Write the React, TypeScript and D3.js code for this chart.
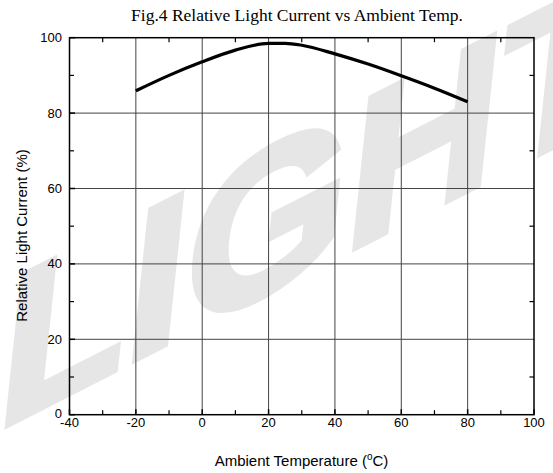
import React from "react";
import * as d3 from "d3";

const temps = [-20, -10, 0, 10, 20, 25, 30, 40, 50, 60, 70, 80];
const relCurrent = [85.9, 90.0, 93.6, 96.7, 98.5, 98.5, 98.0, 95.7, 93.0, 89.9, 86.6, 83.0];
const xMajorTicks = [-40, -20, 0, 20, 40, 60, 80, 100];
const xMinorTicks = [-30, -10, 10, 30, 50, 70, 90];
const yMajorTicks = [0, 20, 40, 60, 80, 100];
const yMinorTicks = [10, 30, 50, 70, 90];

const W = 553;
const H = 473;
const M = { left: 69.5, right: 534, top: 37.7, bottom: 414.7 };

export default function App() {
  const x = d3.scaleLinear().domain([-40, 100]).range([M.left, M.right]);
  const y = d3.scaleLinear().domain([0, 100]).range([M.bottom, M.top]);
  const pts = temps.map((t, i) => [t, relCurrent[i]] as [number, number]);
  const line = d3
    .line<[number, number]>()
    .x((d) => x(d[0]))
    .y((d) => y(d[1]))
    .curve(d3.curveMonotoneX);
  const sans = "'Liberation Sans', Arial, sans-serif";
  const serif = "'Liberation Serif', 'Times New Roman', serif";
  const tl = 4.5;
  return (
    <svg
      width={W}
      height={H}
      style={{ position: "absolute", left: 0, top: 0, background: "#fff" }}
    >
      <text
        x={0}
        y={0}
        fontFamily={sans}
        fontWeight="bold"
        fontSize={200}
        fill="#e6e6e6"
        stroke="#e6e6e6"
        strokeWidth={6}
        strokeLinejoin="miter"
        transform="translate(-6,432) rotate(-27) skewX(-33) scale(1.17,0.92)"
      >
        LIGHT
      </text>
      <text
        x={297}
        y={21}
        textAnchor="middle"
        fontFamily={serif}
        fontSize={17.5}
        fill="#000"
      >
        Fig.4 Relative Light Current vs Ambient Temp.
      </text>
      {xMajorTicks.slice(1, -1).map((t) => (
        <line key={"gx" + t} x1={x(t)} x2={x(t)} y1={M.top} y2={M.bottom} stroke="#444" strokeWidth={1} />
      ))}
      {yMajorTicks.slice(1, -1).map((t) => (
        <line key={"gy" + t} y1={y(t)} y2={y(t)} x1={M.left} x2={M.right} stroke="#444" strokeWidth={1} />
      ))}
      {xMinorTicks.map((t) => (
        <g key={"mx" + t}>
          <line x1={x(t)} x2={x(t)} y1={M.bottom} y2={M.bottom - tl} stroke="#000" strokeWidth={1.2} />
          <line x1={x(t)} x2={x(t)} y1={M.top} y2={M.top + tl} stroke="#000" strokeWidth={1.2} />
        </g>
      ))}
      {xMajorTicks.map((t) => (
        <g key={"Mx" + t}>
          <line x1={x(t)} x2={x(t)} y1={M.bottom} y2={M.bottom - tl - 1} stroke="#000" strokeWidth={1.5} />
        </g>
      ))}
      {yMinorTicks.map((t) => (
        <g key={"my" + t}>
          <line y1={y(t)} y2={y(t)} x1={M.left} x2={M.left + tl} stroke="#000" strokeWidth={1.2} />
          <line y1={y(t)} y2={y(t)} x1={M.right} x2={M.right - tl} stroke="#000" strokeWidth={1.2} />
        </g>
      ))}
      {yMajorTicks.map((t) => (
        <line key={"My" + t} y1={y(t)} y2={y(t)} x1={M.left} x2={M.left + tl + 1} stroke="#000" strokeWidth={1.5} />
      ))}
      <rect
        x={M.left}
        y={M.top}
        width={M.right - M.left}
        height={M.bottom - M.top}
        fill="none"
        stroke="#000"
        strokeWidth={1.5}
      />
      <path d={line(pts) || ""} fill="none" stroke="#000" strokeWidth={3.2} strokeLinecap="butt" strokeLinejoin="round" />
      {xMajorTicks.map((t) => (
        <text key={"lx" + t} x={x(t)} y={427} textAnchor="middle" fontFamily={sans} fontSize={13} fill="#000">
          {t}
        </text>
      ))}
      {yMajorTicks.map((t) => (
        <text key={"ly" + t} x={62} y={y(t) + 4.5 - (t === 0 ? 1 : 0)} textAnchor="end" fontFamily={sans} fontSize={13} fill="#000">
          {t}
        </text>
      ))}
      <text x={301.5} y={466} textAnchor="middle" fontFamily={sans} fontSize={15} fill="#000">
        Ambient Temperature (
        <tspan dy={-6} fontSize={10}>o</tspan>
        <tspan dy={6}>C)</tspan>
      </text>
      <text
        transform="translate(27,235.5) rotate(-90)"
        textAnchor="middle"
        fontFamily={sans}
        fontSize={15}
        fill="#000"
      >
        Relative Light Current (%)
      </text>
    </svg>
  );
}
